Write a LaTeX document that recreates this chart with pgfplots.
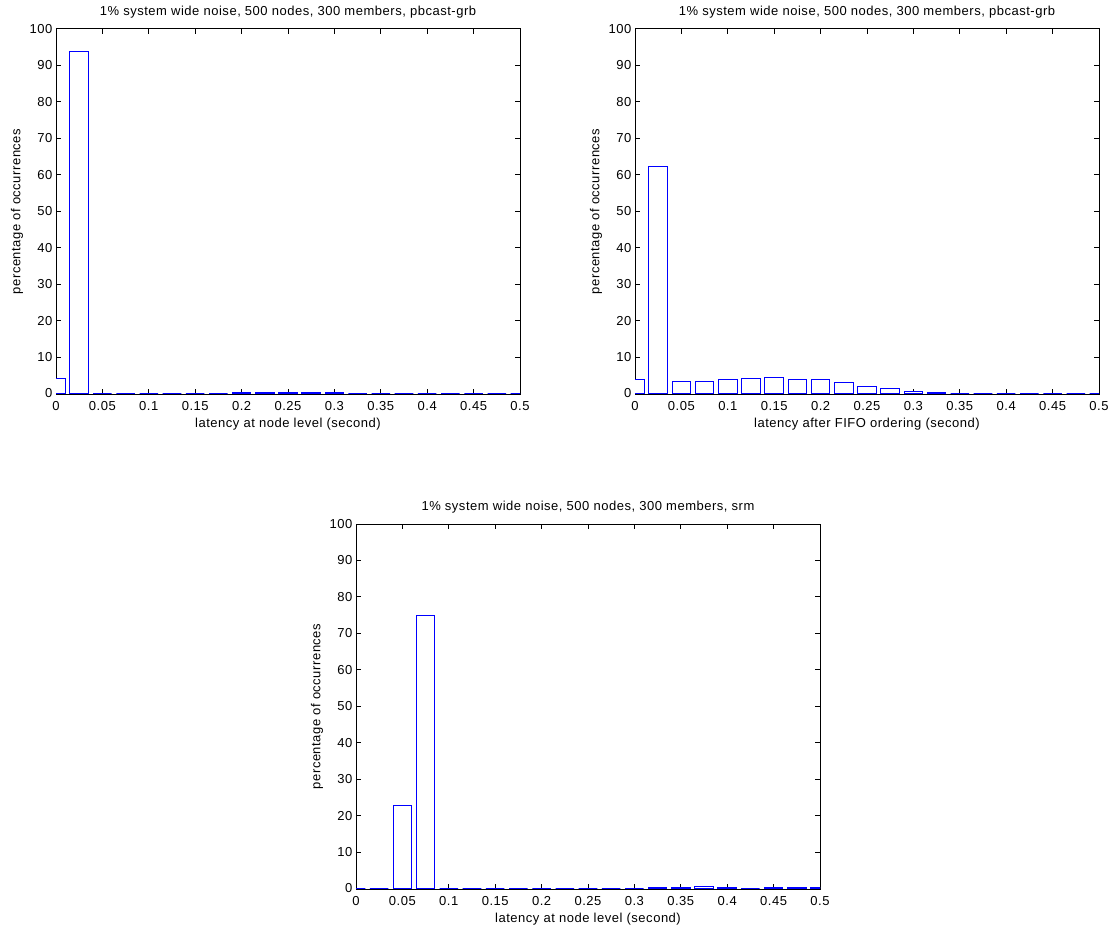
\documentclass[border=0pt]{standalone}
\usepackage{fontspec}
\setmainfont[LetterSpace=4]{Liberation Sans}
\usepackage{pgfplots}
\usepackage{pgfplotstable}
\pgfplotsset{compat=1.18}

\pgfplotstableread{
x y
0 4.2
0.025 93.7
0.05 0
0.075 0
0.1 0
0.125 0
0.15 0
0.175 0
0.2 0.3
0.225 0.3
0.25 0.3
0.275 0.3
0.3 0.3
0.325 0
0.35 0
0.375 0
0.4 0
0.425 0
0.45 0
0.475 0
0.5 0
}\nodetable

\pgfplotstableread{
x y
0 3.9
0.025 62.2
0.05 3.4
0.075 3.4
0.1 3.85
0.125 4.0
0.15 4.4
0.175 3.85
0.2 3.85
0.225 3.0
0.25 2.05
0.275 1.4
0.3 0.55
0.325 0.3
0.35 0
0.375 0
0.4 0
0.425 0
0.45 0
0.475 0
0.5 0
}\fifotable

\pgfplotstableread{
x y
0 0
0.025 0
0.05 22.7
0.075 75.0
0.1 0
0.125 0
0.15 0
0.175 0
0.2 0
0.225 0
0.25 0
0.275 0
0.3 0
0.325 0.3
0.35 0.35
0.375 0.6
0.4 0.3
0.425 0
0.45 0.3
0.475 0.3
0.5 0.3
}\srmtable

\pgfplotsset{
  layers/barsontop/.define layer set={axis background,axis grid,axis ticks,axis lines,axis tick labels,main,axis descriptions,axis foreground}{},
  histax/.style={
    set layers=barsontop,
    scale only axis, width=464pt, height=365pt,
    xmin=0, xmax=0.5, ymin=-0.14, ymax=100,
    xtick={0,0.05,0.1,0.15,0.2,0.25,0.3,0.35,0.4,0.45,0.5},
    xticklabels={0,0.05,0.1,0.15,0.2,0.25,0.3,0.35,0.4,0.45,0.5},
    ytick={0,10,20,30,40,50,60,70,80,90,100},
    tick align=inside, tick pos=both, major tick length=5pt,
    axis line style={line width=1pt},
    every tick/.style={black, line width=1pt},
    ticklabel style={font=\fontsize{13}{15}\selectfont},
    xticklabel style={yshift=-4pt},
    /pgf/number format/assume math mode=true,
    ylabel={percentage of occurrences},
    every axis y label/.style={at={(axis description cs:-0.084,0.5)}, rotate=90, anchor=center, font=\fontsize{13}{15}\selectfont},
    every axis x label/.style={at={(axis description cs:0.5,-0.082)}, anchor=center, font=\fontsize{13}{15}\selectfont},
    every axis title/.style={at={(axis description cs:0.5,1.047)}, anchor=center, font=\fontsize{13}{15}\selectfont},
  },
  histbar/.style={ybar, bar width=0.02, bar shift=0pt, draw=blue, fill=white, line width=1pt},
}

\begin{document}
\begin{tikzpicture}
\begin{axis}[histax, at={(56pt,-394pt)}, anchor=south west,
  title={1\% system wide noise, 500 nodes, 300 members, pbcast-grb},
  xlabel={latency at node level (second)}]
\addplot[histbar] table[x=x,y=y] {\nodetable};
\end{axis}
\begin{axis}[histax, at={(635pt,-394pt)}, anchor=south west,
  title={1\% system wide noise, 500 nodes, 300 members, pbcast-grb},
  xlabel={latency after FIFO ordering (second)}]
\addplot[histbar] table[x=x,y=y] {\fifotable};
\end{axis}
\begin{axis}[histax, at={(356pt,-889pt)}, anchor=south west,
  title={1\% system wide noise, 500 nodes, 300 members, srm},
  xlabel={latency at node level (second)}]
\addplot[histbar] table[x=x,y=y] {\srmtable};
\end{axis}
\pgfresetboundingbox
\useasboundingbox (0pt,0pt) rectangle (1114pt,-931pt);
\end{tikzpicture}
\end{document}
